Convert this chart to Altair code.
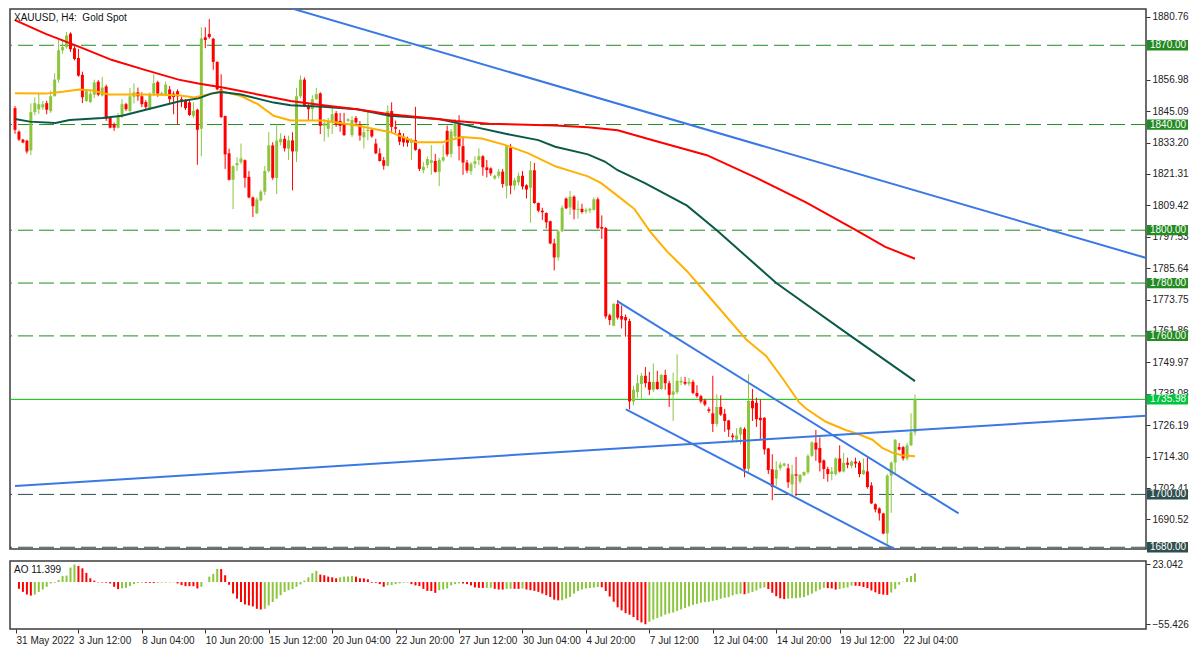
import json
import altair as alt
import pandas as pd

# ---------------- data ----------------
FIRST_IDX = -1  # bar index of the first (partly hidden) candle

opens = [
    1846.2,
    1837.3, 1834.3, 1833.9, 1830.2, 1844.7, 1845.8, 1846.5, 1848.1, 1845.1, 1850.7,
    1857.0, 1868.1, 1869.3, 1874.4, 1868.9, 1865.2, 1858.8, 1848.9, 1848.5, 1851.3,
    1856.2, 1851.0, 1854.4, 1842.5, 1840.0, 1838.8, 1843.2, 1847.7, 1845.1, 1850.5,
    1852.2, 1850.7, 1848.5, 1846.2, 1851.7, 1856.0, 1851.3, 1851.4, 1853.3, 1851.7,
    1852.6, 1849.6, 1849.0, 1848.4, 1843.3, 1845.6, 1838.4, 1873.0, 1874.3, 1872.5,
    1863.7, 1853.3, 1843.2, 1829.1, 1819.1, 1824.6, 1825.7, 1826.5, 1820.2, 1812.4,
    1806.4, 1811.3, 1814.6, 1822.4, 1832.1, 1819.8, 1833.3, 1834.6, 1830.9, 1834.0,
    1829.8, 1850.7, 1857.0, 1847.0, 1845.8, 1849.6, 1851.8, 1839.5, 1838.4, 1840.8,
    1844.3, 1841.4, 1840.5, 1841.4, 1836.0, 1842.5, 1840.1, 1835.2, 1837.5, 1838.0,
    1832.8, 1829.1, 1826.5, 1824.4, 1845.1, 1839.0, 1836.8, 1835.4, 1834.7, 1833.1,
    1834.1, 1830.6, 1822.7, 1824.7, 1825.5, 1826.2, 1822.1, 1826.4, 1837.6, 1828.9,
    1835.5, 1840.5, 1831.8, 1825.6, 1822.3, 1825.1, 1826.6, 1828.0, 1823.8, 1823.4,
    1819.6, 1820.6, 1822.2, 1816.7, 1831.3, 1816.9, 1818.1, 1820.6, 1817.0, 1816.1,
    1822.7, 1810.3, 1807.4, 1806.5, 1803.4, 1795.0, 1789.7, 1799.6, 1812.0, 1808.6,
    1812.7, 1807.7, 1808.1, 1807.1, 1807.5, 1807.7, 1811.7, 1801.2, 1800.8, 1767.8,
    1763.9, 1772.1, 1767.5, 1767.1, 1765.6, 1735.2, 1738.7, 1741.8, 1744.9, 1742.6,
    1739.6, 1742.6, 1739.9, 1745.2, 1742.1, 1737.7, 1738.7, 1742.4, 1742.6, 1741.9,
    1742.6, 1738.4, 1737.2, 1735.6, 1732.2, 1730.7, 1726.7, 1733.1, 1730.5, 1728.0,
    1722.3, 1720.8, 1722.7, 1724.8, 1709.7, 1735.4, 1734.7, 1729.0, 1729.0, 1717.4,
    1709.5, 1706.0, 1710.0, 1710.9, 1709.9, 1703.8, 1707.6, 1704.9, 1707.2, 1708.4,
    1714.6, 1719.6, 1717.6, 1712.9, 1709.6, 1707.7, 1707.7, 1713.6, 1708.7, 1712.0,
    1710.8, 1712.4, 1712.0, 1707.7, 1708.7, 1703.4, 1696.3, 1694.7, 1692.8, 1685.2,
    1707.1, 1712.0, 1717.9, 1717.9, 1713.6, 1718.6, 1723.5,
]
highs = [
    1847.0,
    1837.8, 1834.6, 1834.2, 1848.0, 1850.3, 1851.6, 1849.0, 1849.0, 1852.8, 1859.4,
    1872.0, 1872.2, 1875.0, 1874.9, 1870.1, 1868.6, 1860.0, 1853.3, 1852.6, 1857.0,
    1856.8, 1858.0, 1855.1, 1842.9, 1840.8, 1844.4, 1849.6, 1848.2, 1853.8, 1855.6,
    1854.0, 1852.2, 1849.2, 1852.2, 1859.0, 1856.6, 1852.4, 1856.3, 1854.6, 1852.6,
    1853.3, 1850.5, 1849.6, 1849.6, 1848.4, 1846.0, 1876.8, 1876.8, 1879.9, 1872.8,
    1863.9, 1859.0, 1843.4, 1830.9, 1824.6, 1827.6, 1832.8, 1826.8, 1822.4, 1812.7,
    1812.4, 1815.3, 1824.3, 1837.1, 1833.3, 1840.1, 1836.7, 1835.8, 1835.8, 1837.1,
    1853.9, 1858.6, 1857.8, 1847.7, 1851.1, 1853.8, 1852.2, 1842.1, 1842.5, 1846.3,
    1845.1, 1844.4, 1844.4, 1842.5, 1843.2, 1843.2, 1841.3, 1838.9, 1845.1, 1838.4,
    1834.6, 1831.0, 1827.7, 1847.2, 1848.4, 1841.5, 1838.0, 1836.7, 1835.4, 1834.8,
    1846.7, 1830.9, 1825.8, 1827.9, 1832.2, 1828.9, 1827.4, 1832.4, 1839.6, 1838.3,
    1842.1, 1843.5, 1835.3, 1826.6, 1825.8, 1828.0, 1831.0, 1828.4, 1826.6, 1823.8,
    1821.0, 1823.2, 1823.2, 1832.2, 1832.7, 1819.8, 1821.8, 1822.4, 1817.4, 1826.2,
    1825.5, 1810.5, 1808.5, 1806.8, 1803.6, 1796.8, 1799.9, 1809.4, 1812.4, 1814.9,
    1813.2, 1811.2, 1810.0, 1808.5, 1808.5, 1812.4, 1812.4, 1805.6, 1801.2, 1768.4,
    1772.4, 1773.6, 1771.5, 1768.1, 1766.5, 1741.1, 1745.2, 1746.0, 1748.2, 1746.4,
    1749.6, 1746.8, 1745.6, 1747.2, 1743.0, 1746.1, 1753.0, 1744.5, 1744.5, 1744.1,
    1743.4, 1741.3, 1737.7, 1736.2, 1733.0, 1744.9, 1737.9, 1737.5, 1732.4, 1728.2,
    1723.2, 1725.1, 1725.6, 1725.4, 1745.5, 1739.9, 1736.6, 1736.0, 1729.2, 1717.6,
    1715.2, 1712.6, 1712.2, 1712.0, 1711.6, 1711.2, 1714.2, 1707.7, 1708.7, 1715.2,
    1720.2, 1724.4, 1721.6, 1713.2, 1710.5, 1710.4, 1714.1, 1718.6, 1715.7, 1713.9,
    1712.8, 1713.9, 1712.7, 1713.6, 1713.9, 1704.6, 1696.6, 1695.1, 1693.0, 1707.7,
    1712.6, 1720.9, 1719.5, 1718.3, 1719.5, 1730.7, 1737.8,
]
lows = [
    1836.5,
    1833.8, 1832.9, 1829.0, 1828.4, 1843.5, 1844.0, 1845.5, 1843.9, 1844.4, 1850.7,
    1855.8, 1866.8, 1868.7, 1867.5, 1864.3, 1858.1, 1848.1, 1848.6, 1848.1, 1850.0,
    1850.7, 1850.6, 1841.4, 1838.5, 1837.6, 1838.5, 1842.4, 1845.1, 1844.4, 1848.0,
    1849.0, 1846.6, 1845.8, 1845.5, 1850.9, 1850.5, 1850.9, 1850.7, 1847.7, 1843.9,
    1840.0, 1846.6, 1845.5, 1843.2, 1842.5, 1824.8, 1828.0, 1868.9, 1872.5, 1860.7,
    1853.0, 1842.5, 1823.2, 1818.8, 1808.0, 1822.4, 1825.0, 1816.1, 1812.1, 1805.0,
    1806.1, 1810.9, 1813.3, 1821.8, 1819.1, 1813.7, 1832.1, 1829.8, 1826.6, 1815.1,
    1825.8, 1850.0, 1846.6, 1841.7, 1841.7, 1849.3, 1836.4, 1833.6, 1835.2, 1836.4,
    1839.1, 1837.3, 1835.7, 1841.0, 1835.3, 1839.4, 1833.9, 1830.9, 1834.0, 1835.0,
    1828.8, 1826.0, 1822.9, 1824.1, 1837.3, 1836.8, 1832.2, 1831.6, 1831.6, 1826.6,
    1830.1, 1822.4, 1821.5, 1823.5, 1821.0, 1821.8, 1816.7, 1825.9, 1827.9, 1827.5,
    1834.8, 1826.4, 1821.0, 1821.6, 1820.9, 1823.5, 1824.6, 1820.6, 1820.0, 1820.6,
    1819.1, 1819.6, 1816.1, 1812.0, 1813.6, 1815.1, 1817.0, 1815.4, 1812.0, 1802.8,
    1810.0, 1806.8, 1803.9, 1800.6, 1794.7, 1784.8, 1788.5, 1799.3, 1808.0, 1805.8,
    1804.1, 1804.4, 1806.3, 1806.3, 1806.5, 1807.4, 1800.5, 1796.7, 1766.5, 1764.1,
    1763.6, 1766.2, 1762.8, 1759.7, 1732.2, 1733.7, 1736.6, 1736.1, 1740.5, 1737.6,
    1738.7, 1739.6, 1739.6, 1739.6, 1733.1, 1727.8, 1738.0, 1741.3, 1741.3, 1741.0,
    1737.9, 1736.6, 1734.5, 1733.4, 1730.9, 1723.6, 1725.7, 1729.7, 1723.7, 1721.8,
    1720.3, 1719.7, 1719.0, 1706.5, 1707.8, 1727.8, 1725.5, 1721.0, 1715.1, 1707.7,
    1697.8, 1703.2, 1709.0, 1710.5, 1702.5, 1699.7, 1699.4, 1704.1, 1707.0, 1707.7,
    1714.2, 1712.7, 1708.7, 1705.8, 1704.8, 1705.3, 1707.1, 1708.3, 1708.3, 1709.9,
    1709.9, 1710.1, 1706.5, 1707.4, 1702.2, 1696.4, 1693.2, 1690.1, 1684.9, 1681.0,
    1693.0, 1707.8, 1716.6, 1712.8, 1712.8, 1718.3, 1722.3,
]
closes = [
    1838.0,
    1834.3, 1833.2, 1829.8, 1844.7, 1848.1, 1847.7, 1847.7, 1845.6, 1850.7, 1857.0,
    1868.1, 1869.3, 1873.7, 1868.5, 1864.8, 1858.5, 1850.3, 1852.6, 1851.6, 1855.9,
    1851.3, 1854.0, 1842.1, 1838.8, 1838.8, 1843.2, 1847.7, 1845.8, 1850.7, 1852.2,
    1850.7, 1847.7, 1846.6, 1851.3, 1855.6, 1851.7, 1851.9, 1855.1, 1849.6, 1850.4,
    1850.7, 1848.5, 1846.2, 1843.6, 1845.2, 1838.0, 1872.6, 1872.0, 1873.1, 1863.7,
    1853.3, 1842.8, 1828.7, 1819.1, 1824.2, 1825.4, 1827.2, 1819.8, 1812.4, 1809.1,
    1811.6, 1814.6, 1822.4, 1832.1, 1819.8, 1833.9, 1834.6, 1831.0, 1834.0, 1829.8,
    1850.7, 1857.0, 1847.0, 1845.8, 1849.6, 1851.5, 1839.5, 1840.5, 1841.4, 1843.9,
    1840.1, 1839.5, 1836.0, 1842.0, 1841.7, 1840.8, 1835.8, 1837.1, 1838.0, 1835.5,
    1829.1, 1826.2, 1824.4, 1845.1, 1839.1, 1838.4, 1833.5, 1833.2, 1833.1, 1834.0,
    1830.4, 1823.2, 1824.0, 1826.9, 1826.5, 1822.1, 1826.6, 1827.6, 1828.7, 1837.4,
    1840.3, 1831.8, 1825.6, 1822.6, 1825.1, 1826.1, 1828.0, 1823.8, 1822.8, 1821.5,
    1820.6, 1822.2, 1817.5, 1831.8, 1816.9, 1818.9, 1820.6, 1816.5, 1815.4, 1822.7,
    1810.3, 1807.4, 1806.8, 1803.0, 1795.0, 1789.7, 1799.6, 1808.5, 1808.3, 1812.7,
    1807.8, 1808.1, 1806.9, 1807.7, 1808.1, 1811.7, 1800.8, 1800.6, 1767.4, 1766.0,
    1772.1, 1766.9, 1766.2, 1765.9, 1735.2, 1739.6, 1742.1, 1744.9, 1742.1, 1739.6,
    1742.6, 1739.9, 1745.2, 1742.1, 1737.7, 1739.0, 1743.0, 1743.0, 1741.9, 1742.6,
    1738.4, 1737.2, 1735.2, 1734.0, 1731.6, 1726.7, 1733.1, 1730.2, 1727.8, 1724.5,
    1721.7, 1722.3, 1725.2, 1709.7, 1735.4, 1732.6, 1728.5, 1728.1, 1717.0, 1709.2,
    1702.8, 1709.3, 1711.3, 1711.7, 1704.6, 1707.6, 1707.1, 1707.4, 1708.5, 1714.6,
    1719.6, 1717.0, 1712.0, 1709.6, 1707.7, 1708.7, 1713.6, 1708.7, 1712.0, 1711.2,
    1712.4, 1711.7, 1707.7, 1709.2, 1702.8, 1696.6, 1694.3, 1692.8, 1685.2, 1707.1,
    1712.0, 1720.7, 1717.0, 1713.6, 1718.6, 1723.5, 1735.98,
]

# Awesome Oscillator, bar index 0 .. 226
ao_values = [
    -8.9, -12.9, -16.4, -17.8, -16.4, -12.9, -9.8, -6.2, -1.8, -0.9,
    2.7, 8.0, 8.5, 19.0, 23.0, 21.0, 18.0, 12.0, 4.9, 1.8,
    -0.4, -0.6, -0.9, -1.8, -6.2, -9.3, -8.4, -7.6, -5.3, -2.7,
    -1.3, -0.9, -1.0, -1.1, -1.3, -0.9, -0.8, -0.7, -0.5, -0.4,
    -1.8, -4.0, -5.3, -5.4, -5.5, -8.4, -6.2, 0.2, 7.1, 10.7,
    17.3, 17.0, 8.9, -3.6, -15.1, -21.8, -26.2, -29.3, -30.7, -32.0,
    -35.1, -36.0, -35.1, -30.7, -26.2, -21.8, -17.3, -12.9, -10.7, -9.3,
    -6.2, -3.1, 1.8, 6.2, 11.6, 14.7, 9.8, 8.9, 7.1, 6.2,
    4.9, 6.2, 7.1, 7.3, 8.0, 7.1, 4.9, 4.8, 3.6, -0.9,
    -1.0, -2.7, -6.2, -4.4, -4.0, -2.7, -1.8, -0.9, -0.8, -2.7,
    -4.4, -5.3, -8.9, -11.6, -11.8, -14.2, -10.7, -9.8, -8.4, -4.4,
    -2.7, -1.8, -1.9, -2.7, -4.4, -7.1, -7.6, -7.7, -7.6, -7.5,
    -8.9, -9.8, -9.9, -8.9, -8.8, -8.9, -9.0, -8.4, -9.8, -10.7,
    -11.6, -12.9, -15.1, -17.3, -19.6, -23.1, -24.0, -23.9, -21.8, -19.6,
    -15.1, -11.6, -9.8, -8.4, -7.8, -7.3, -6.5, -6.9, -11.7, -19.0,
    -25.8, -33.2, -37.2, -40.8, -42.8, -46.0, -50.1, -52.9, -55.4, -52.1,
    -49.3, -47.3, -45.3, -42.8, -41.2, -40.0, -37.9, -35.9, -33.9, -31.9,
    -29.9, -28.7, -27.1, -26.3, -25.8, -24.7, -23.8, -21.8, -20.6, -19.8,
    -17.5, -16.0, -15.2, -16.0, -14.8, -12.9, -11.0, -8.4, -7.2, -9.1,
    -14.1, -18.6, -21.3, -22.4, -21.7, -21.3, -21.2, -20.5, -19.8, -17.5,
    -15.2, -12.2, -9.9, -7.6, -8.0, -8.4, -9.9, -9.1, -8.0, -7.2,
    -4.6, -4.9, -5.3, -6.5, -8.0, -11.0, -13.5, -15.6, -16.5, -16.9,
    -13.7, -9.1, -3.4, 0.5, 5.3, 8.0, 11.399,
]

# moving averages (bar index, price)
ma_red_x = [-1, 6.75, 15.25, 23.5, 31.75, 40.25, 45.25, 51.75, 60.25, 68.5, 76.75,
            85.25, 93.5, 101.75, 110.25, 118.5, 135.25, 143.5, 151, 161, 173.5,
            186, 198.5, 211, 218.5, 226]
ma_red_y = [1879.5, 1874.3, 1869.4, 1864.4, 1860.7, 1857.0, 1855.5, 1853.9, 1851.4,
            1848.9, 1847.3, 1845.8, 1843.9, 1842.7, 1841.3, 1840.3, 1839.6, 1839.0,
            1837.8, 1833.6, 1828.4, 1819.8, 1810.5, 1800.1, 1793.7, 1789.2]
ma_dkgreen_x = [-1, 2.75, 9.25, 12.75, 21, 26, 31.75, 40.25, 45.25, 48.5, 51, 56,
                64.25, 68.5, 76.75, 85.25, 93.5, 106, 114.25, 122.75, 131, 135.25,
                143.5, 147.75, 151, 157.75, 168.5, 176, 191, 209.75, 226]
ma_dkgreen_y = [1842.1, 1841.1, 1840.6, 1841.7, 1842.5, 1843.3, 1845.5, 1848.7,
                1849.9, 1851.7, 1852.3, 1851.4, 1848.3, 1847.3, 1846.7, 1845.8,
                1843.3, 1842.1, 1839.3, 1836.5, 1834.1, 1831.6, 1828.7, 1826.0,
                1822.7, 1817.9, 1809.3, 1800.0, 1780.0, 1760.0, 1742.9]
ma_orange_x = [-1, 6.75, 11, 15.25, 18.5, 22.75, 31.75, 40.25, 44.25, 46, 48.5, 51,
               56, 60.25, 64.25, 68.5, 76.75, 85.25, 89.25, 93.5, 97.75, 100.25,
               106.75, 111.75, 116.75, 122.75, 128.5, 135.25, 140.25, 143.5, 146.75,
               151, 155.25, 159.25, 163.5, 168.5, 176, 183.5, 188.5, 192.75, 196.75,
               198.5, 203.5, 208.5, 211, 215.25, 217.75, 220.25, 222.75, 226]
ma_orange_y = [1851.8, 1851.7, 1852.4, 1853.3, 1852.9, 1851.4, 1851.4, 1851.1, 1850.2,
               1850.8, 1851.7, 1852.6, 1850.8, 1847.7, 1843.3, 1841.5, 1841.5, 1839.6,
               1838.4, 1837.2, 1834.7, 1833.3, 1833.3, 1835.3, 1834.7, 1832.2, 1829.1,
               1824.2, 1821.9, 1820.4, 1817.9, 1813.0, 1808.0, 1799.4, 1791.9, 1784.5,
               1771.5, 1758.5, 1752.3, 1743.6, 1734.9, 1732.5, 1727.5, 1724.4, 1723.2,
               1720.7, 1717.6, 1715.8, 1714.8, 1714.4]

# trend lines (bar index / price end points)
tl_x1 = [60, -1, 151, 153.1]
tl_y1 = [1887.8, 1703.2, 1773.1, 1732.2]
tl_x2 = [290, 290, 237, 221]
tl_y2 = [1787.0, 1730.3, 1692.8, 1679.2]

levels_green = [1870.0, 1840.0, 1800.0, 1780.0, 1760.0]
levels_dark = [1700.0, 1680.0]
current_price = 1735.98

price_ticks = [1880.76, 1856.98, 1845.09, 1833.20, 1821.31, 1809.42, 1797.53,
               1785.64, 1773.75, 1761.86, 1749.97, 1738.08, 1726.19, 1714.30, 1702.41,
               1690.52]
ao_ticks = [23.042, -55.426]
x_tick_pos = [-0.75, 15, 31, 47, 63, 79, 95, 111, 127, 143, 159, 175, 191, 207, 223]
x_tick_labels = ["31 May 2022", "3 Jun 12:00", "8 Jun 04:00", "10 Jun 20:00",
                 "15 Jun 12:00", "20 Jun 04:00", "22 Jun 20:00", "27 Jun 12:00",
                 "30 Jun 04:00", "4 Jul 20:00", "7 Jul 12:00", "12 Jul 04:00",
                 "14 Jul 20:00", "19 Jul 12:00", "22 Jul 04:00"]

# ---------------- styling ----------------
W, H1, H2 = 1136, 540, 68
X_DOMAIN = [-1, 283]
P_DOMAIN = [1679.34, 1883.73]
AO_DOMAIN = [-61.6, 27.6]
UP, DOWN = "#8cc63f", "#ff0000"
FONT = "Liberation Sans"
TAG_HALF = 1.95  # half tag height in price units
LV_GREEN, LV_DARK, CUR_GREEN = "#228b22", "#2f4f4f", "#00c43c"

xscale = alt.Scale(domain=X_DOMAIN, nice=False, zero=False)
yscale = alt.Scale(domain=P_DOMAIN, nice=False, zero=False)
aoscale = alt.Scale(domain=AO_DOMAIN, nice=False, zero=False)
dir_color = alt.Color("dir:N", scale=alt.Scale(domain=["up", "down"], range=[UP, DOWN]),
                      legend=None)

price_axis = alt.Axis(orient="right", values=price_ticks, format=".2f", title=None,
                      grid=False, domain=False, tickSize=4, tickColor="#333333",
                      labelColor="#222222", labelFont=FONT, labelFontSize=10,
                      labelPadding=2, labelOverlap=False)


def ypr(field):
    return alt.Y(field, type="quantitative", scale=yscale, axis=price_axis, title=None)


xpr = alt.X("idx:Q", scale=xscale, axis=None)

# ---------------- tables ----------------
candles = pd.DataFrame(
    [{"idx": FIRST_IDX + i, "o": o, "h": h, "l": l, "c": c,
      "dir": "up" if c >= o else "down"}
     for i, (o, h, l, c) in enumerate(zip(opens, highs, lows, closes))])


def ma_table(xs, ys):
    return pd.DataFrame([{"idx": x, "p": y, "k": k} for k, (x, y) in enumerate(zip(xs, ys))])


tl_df = pd.DataFrame({"x1": tl_x1, "y1": tl_y1, "x2": tl_x2, "y2": tl_y2})


def tag_table(values):
    return pd.DataFrame([{"p": v, "label": f"{v:.2f}", "lo": v - TAG_HALF,
                          "hi": v + TAG_HALF} for v in values])


ao_df = pd.DataFrame(
    [{"idx": i, "ao": v,
      "dir": "up" if (i > 0 and v > ao_values[i - 1]) else "down"}
     for i, v in enumerate(ao_values)])

# ---------------- price panel ----------------
layers = []
for vals, col in [(levels_green, LV_GREEN), (levels_dark, LV_DARK)]:
    layers.append(alt.Chart(pd.DataFrame({"p": vals})).mark_rule(
        strokeWidth=1, strokeDash=[15, 6], color=col).encode(y=ypr("p")))
layers.append(alt.Chart(pd.DataFrame({"p": [current_price]})).mark_rule(
    strokeWidth=1, color="#00c000").encode(y=ypr("p")))
layers.append(alt.Chart(candles).mark_rule(strokeWidth=1).encode(
    x=xpr, y=ypr("l"), y2="h:Q", color=dir_color))
layers.append(alt.Chart(candles).mark_bar(size=3).encode(
    x=xpr, y=ypr("o"), y2="c:Q", color=dir_color))
for xs, ys, col in [(ma_orange_x, ma_orange_y, "#ffb000"),
                    (ma_dkgreen_x, ma_dkgreen_y, "#0b5a48"),
                    (ma_red_x, ma_red_y, "#ff0000")]:
    layers.append(alt.Chart(ma_table(xs, ys)).mark_line(
        strokeWidth=2, clip=True, color=col).encode(x=xpr, y=ypr("p"), order="k:Q"))
layers.append(alt.Chart(tl_df).mark_rule(strokeWidth=2, color="#3a78e6", clip=True).encode(
    x=alt.X("x1:Q", scale=xscale, axis=None), x2="x2:Q", y=ypr("y1"), y2="y2:Q"))
for vals, col in [(levels_green, LV_GREEN), (levels_dark, LV_DARK),
                  ([current_price], CUR_GREEN)]:
    tdf = tag_table(vals)
    layers.append(alt.Chart(tdf).mark_rect(color=col).encode(
        x=alt.value(W + 1), x2=alt.value(W + 42), y=ypr("lo"), y2="hi:Q"))
    layers.append(alt.Chart(tdf).mark_text(align="left", baseline="middle", font=FONT,
                                           fontSize=10, color="white").encode(
        x=alt.value(W + 4), y=ypr("p"), text="label:N"))
layers.append(alt.Chart(pd.DataFrame({"t": ["XAUUSD, H4:\u00a0 Gold Spot"]})).mark_text(
    align="left", baseline="middle", font=FONT, fontSize=10, color="#111111").encode(
    x=alt.value(4), y=alt.value(9), text="t:N"))

price = alt.layer(*layers).properties(width=W, height=H1)

# ---------------- AO panel ----------------
label_map = json.dumps({str(v): lab for v, lab in zip(x_tick_pos, x_tick_labels)})
x_axis = alt.Axis(values=x_tick_pos, labelExpr=label_map + "[toString(datum.value)]",
                  title=None, grid=False, domain=False, tickSize=4, tickColor="#333333",
                  labelAlign="left", labelBaseline="top", labelPadding=2,
                  labelColor="#222222", labelFont=FONT, labelFontSize=10,
                  labelOverlap=False, labelFlush=False)
ao_axis = alt.Axis(orient="right", values=ao_ticks, format=".3f", title=None, grid=False,
                   domain=False, tickSize=4, tickColor="#333333", labelColor="#222222",
                   labelFont=FONT, labelFontSize=10, labelPadding=2, labelOverlap=False)

ao_bars = alt.Chart(ao_df).mark_bar(size=2).encode(
    x=alt.X("idx:Q", scale=xscale, axis=x_axis),
    y=alt.Y("ao:Q", scale=aoscale, axis=ao_axis, title=None),
    y2=alt.datum(0), color=dir_color)
ao_title = alt.Chart(pd.DataFrame({"t": [f"AO {ao_values[-1]:.3f}"]})).mark_text(
    align="left", baseline="middle", font=FONT, fontSize=10, color="#111111").encode(
    x=alt.value(4), y=alt.value(9), text="t:N")
ao_panel = alt.layer(ao_bars, ao_title).properties(width=W, height=H2)

chart = alt.vconcat(price, ao_panel, spacing=4).properties(
    padding={"left": 0, "top": 0, "right": 2, "bottom": 0},
    background="white",
).configure_view(stroke="#3c3c3c", strokeWidth=1.5)

chart.save("out.html", embed_options={"renderer": "svg", "actions": False})
